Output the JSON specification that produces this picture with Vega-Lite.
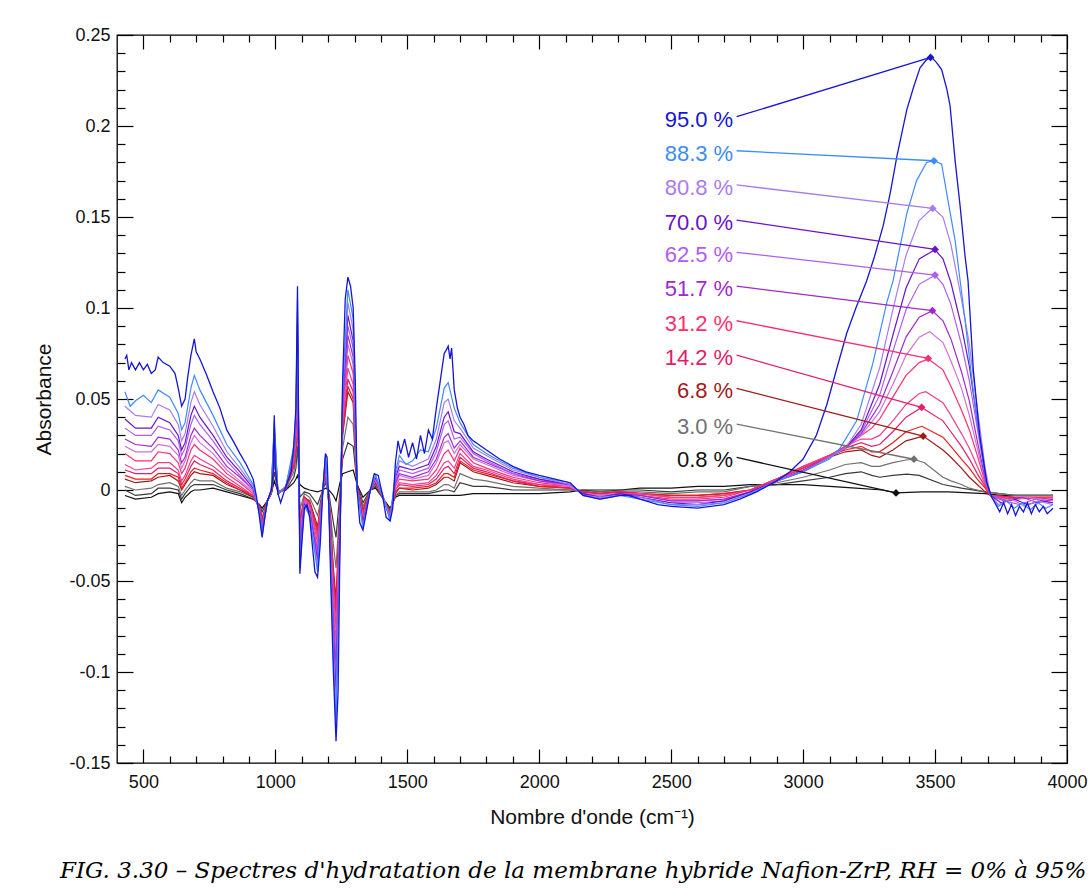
{
"$schema":"https://vega.github.io/schema/vega-lite/v6.json",
"width":950,"height":728,
"autosize":{"type":"none"},
"padding":{"left":117,"top":35,"right":24,"bottom":130},
"config":{"view":{"stroke":"#000","strokeWidth":1.3},"font":"Liberation Sans"},
"title":{"text":"FIG. 3.30 – Spectres d'hydratation de la membrane hybride Nafion-ZrP, RH = 0% à 95%","orient":"bottom","anchor":"start","frame":"group","dx":-57,"offset":33,"font":"DejaVu Serif","fontStyle":"italic","fontWeight":"normal","fontSize":23,"color":"#000"},
"datasets":{
"lab":[{"k":"95.0 %","ly":0.2051,"px":3483,"py":0.2377},{"k":"88.3 %","ly":0.1864,"px":3496,"py":0.1809},{"k":"80.8 %","ly":0.1676,"px":3491,"py":0.1547},{"k":"70.0 %","ly":0.1483,"px":3500,"py":0.1322},{"k":"62.5 %","ly":0.1306,"px":3500,"py":0.1181},{"k":"51.7 %","ly":0.112,"px":3490,"py":0.0985},{"k":"31.2 %","ly":0.093,"px":3474,"py":0.0723},{"k":"14.2 %","ly":0.0741,"px":3449,"py":0.0454},{"k":"6.8 %","ly":0.0558,"px":3455,"py":0.0296},{"k":"3.0 %","ly":0.0362,"px":3420,"py":0.0169},{"k":"0.8 %","ly":0.0179,"px":3352,"py":-0.0016}],
"s95":[{"x":430,"y":0.072},{"x":437,"y":0.074},{"x":445,"y":0.066},{"x":455,"y":0.07},{"x":470,"y":0.066},{"x":485,"y":0.07},{"x":500,"y":0.066},{"x":515,"y":0.069},{"x":530,"y":0.064},{"x":545,"y":0.066},{"x":556,"y":0.073},{"x":575,"y":0.07},{"x":600,"y":0.068},{"x":620,"y":0.064},{"x":632,"y":0.056},{"x":645,"y":0.046},{"x":658,"y":0.05},{"x":668,"y":0.062},{"x":680,"y":0.074},{"x":693,"y":0.083},{"x":700,"y":0.076},{"x":714,"y":0.072},{"x":740,"y":0.063},{"x":764,"y":0.054},{"x":790,"y":0.045},{"x":816,"y":0.033},{"x":840,"y":0.027},{"x":866,"y":0.02},{"x":890,"y":0.014},{"x":916,"y":0.006},{"x":929,"y":-0.004},{"x":940,"y":-0.015},{"x":950,"y":-0.026},{"x":960,"y":-0.015},{"x":970,"y":-0.006},{"x":985,"y":0},{"x":992,"y":0.01},{"x":996,"y":0.041},{"x":1000,"y":0.012},{"x":1010,"y":-0.002},{"x":1020,"y":-0.007},{"x":1040,"y":0.002},{"x":1060,"y":0.01},{"x":1070,"y":0.025},{"x":1078,"y":0.045},{"x":1084,"y":0.112},{"x":1088,"y":0.04},{"x":1093,"y":-0.046},{"x":1100,"y":-0.03},{"x":1110,"y":-0.01},{"x":1120,"y":-0.008},{"x":1130,"y":-0.015},{"x":1140,"y":-0.03},{"x":1150,"y":-0.045},{"x":1160,"y":-0.048},{"x":1170,"y":-0.03},{"x":1180,"y":0},{"x":1190,"y":0.02},{"x":1196,"y":0.018},{"x":1203,"y":-0.01},{"x":1210,"y":-0.05},{"x":1220,"y":-0.1},{"x":1230,"y":-0.138},{"x":1238,"y":-0.11},{"x":1245,"y":-0.03},{"x":1255,"y":0.06},{"x":1265,"y":0.105},{"x":1275,"y":0.117},{"x":1285,"y":0.112},{"x":1295,"y":0.1},{"x":1303,"y":0.06},{"x":1310,"y":0},{"x":1320,"y":-0.018},{"x":1332,"y":-0.022},{"x":1345,"y":-0.012},{"x":1360,"y":0},{"x":1375,"y":0.009},{"x":1390,"y":0.008},{"x":1405,"y":-0.002},{"x":1420,"y":-0.015},{"x":1435,"y":-0.017},{"x":1445,"y":-0.01},{"x":1455,"y":0.015},{"x":1465,"y":0.027},{"x":1475,"y":0.02},{"x":1490,"y":0.028},{"x":1505,"y":0.018},{"x":1520,"y":0.026},{"x":1535,"y":0.017},{"x":1550,"y":0.03},{"x":1565,"y":0.02},{"x":1580,"y":0.033},{"x":1595,"y":0.028},{"x":1610,"y":0.045},{"x":1625,"y":0.06},{"x":1640,"y":0.075},{"x":1648,"y":0.077},{"x":1655,"y":0.079},{"x":1662,"y":0.072},{"x":1668,"y":0.078},{"x":1678,"y":0.055},{"x":1690,"y":0.045},{"x":1700,"y":0.04},{"x":1715,"y":0.036},{"x":1730,"y":0.03},{"x":1750,"y":0.027},{"x":1800,"y":0.022},{"x":1850,"y":0.017},{"x":1900,"y":0.013},{"x":1950,"y":0.01},{"x":2000,"y":0.008},{"x":2060,"y":0.006},{"x":2117,"y":0.004},{"x":2166,"y":-0.003},{"x":2230,"y":-0.005},{"x":2268,"y":-0.004},{"x":2306,"y":-0.003},{"x":2340,"y":-0.003},{"x":2382,"y":-0.005},{"x":2450,"y":-0.008},{"x":2500,"y":-0.009},{"x":2600,"y":-0.01},{"x":2700,"y":-0.008},{"x":2760,"y":-0.005},{"x":2824,"y":-0.001},{"x":2900,"y":0.005},{"x":2950,"y":0.01},{"x":3000,"y":0.017},{"x":3050,"y":0.03},{"x":3090,"y":0.047},{"x":3130,"y":0.068},{"x":3165,"y":0.086},{"x":3200,"y":0.1},{"x":3241,"y":0.115},{"x":3270,"y":0.128},{"x":3303,"y":0.145},{"x":3330,"y":0.163},{"x":3355,"y":0.183},{"x":3393,"y":0.209},{"x":3420,"y":0.222},{"x":3443,"y":0.232},{"x":3465,"y":0.236},{"x":3485,"y":0.238},{"x":3505,"y":0.235},{"x":3525,"y":0.231},{"x":3545,"y":0.22},{"x":3557,"y":0.211},{"x":3576,"y":0.181},{"x":3595,"y":0.156},{"x":3614,"y":0.128},{"x":3625,"y":0.115},{"x":3645,"y":0.066},{"x":3670,"y":0.029},{"x":3696,"y":0.004},{"x":3715,"y":-0.004},{"x":3730,"y":-0.008},{"x":3745,"y":-0.012},{"x":3760,"y":-0.007},{"x":3775,"y":-0.013},{"x":3790,"y":-0.008},{"x":3805,"y":-0.014},{"x":3820,"y":-0.009},{"x":3835,"y":-0.012},{"x":3850,"y":-0.007},{"x":3865,"y":-0.013},{"x":3880,"y":-0.008},{"x":3895,"y":-0.012},{"x":3910,"y":-0.009},{"x":3925,"y":-0.013},{"x":3947,"y":-0.01}],
"s88":[{"x":430,"y":0.054},{"x":450,"y":0.046},{"x":470,"y":0.049},{"x":500,"y":0.052},{"x":530,"y":0.048},{"x":556,"y":0.055},{"x":600,"y":0.051},{"x":632,"y":0.042},{"x":645,"y":0.033},{"x":658,"y":0.037},{"x":680,"y":0.056},{"x":693,"y":0.063},{"x":714,"y":0.055},{"x":764,"y":0.041},{"x":816,"y":0.025},{"x":866,"y":0.015},{"x":916,"y":0.003},{"x":940,"y":-0.013},{"x":950,"y":-0.025},{"x":970,"y":-0.006},{"x":985,"y":0},{"x":996,"y":0.038},{"x":1010,"y":-0.002},{"x":1040,"y":0.002},{"x":1070,"y":0.024},{"x":1078,"y":0.042},{"x":1084,"y":0.105},{"x":1093,"y":-0.043},{"x":1110,"y":-0.009},{"x":1130,"y":-0.014},{"x":1160,"y":-0.045},{"x":1180,"y":0},{"x":1190,"y":0.019},{"x":1203,"y":-0.009},{"x":1220,"y":-0.093},{"x":1230,"y":-0.129},{"x":1245,"y":-0.028},{"x":1255,"y":0.056},{"x":1275,"y":0.11},{"x":1295,"y":0.094},{"x":1310,"y":0},{"x":1332,"y":-0.021},{"x":1360,"y":0},{"x":1380,"y":0.008},{"x":1405,"y":-0.002},{"x":1435,"y":-0.017},{"x":1455,"y":0.01},{"x":1470,"y":0.019},{"x":1495,"y":0.014},{"x":1520,"y":0.016},{"x":1550,"y":0.022},{"x":1580,"y":0.021},{"x":1610,"y":0.034},{"x":1640,"y":0.056},{"x":1655,"y":0.059},{"x":1678,"y":0.045},{"x":1700,"y":0.037},{"x":1750,"y":0.025},{"x":1800,"y":0.02},{"x":1900,"y":0.012},{"x":2000,"y":0.007},{"x":2117,"y":0.004},{"x":2166,"y":-0.003},{"x":2230,"y":-0.005},{"x":2306,"y":-0.003},{"x":2382,"y":-0.005},{"x":2500,"y":-0.008},{"x":2600,"y":-0.009},{"x":2700,"y":-0.007},{"x":2800,"y":-0.002},{"x":2900,"y":0.005},{"x":3000,"y":0.01},{"x":3100,"y":0.017},{"x":3140,"y":0.023},{"x":3203,"y":0.038},{"x":3265,"y":0.07},{"x":3317,"y":0.103},{"x":3341,"y":0.115},{"x":3393,"y":0.152},{"x":3430,"y":0.17},{"x":3468,"y":0.18},{"x":3496,"y":0.181},{"x":3525,"y":0.179},{"x":3549,"y":0.159},{"x":3576,"y":0.137},{"x":3595,"y":0.115},{"x":3614,"y":0.093},{"x":3640,"y":0.06},{"x":3670,"y":0.027},{"x":3696,"y":0.003},{"x":3715,"y":-0.004},{"x":3740,"y":-0.009},{"x":3770,"y":-0.006},{"x":3800,"y":-0.01},{"x":3830,"y":-0.007},{"x":3860,"y":-0.011},{"x":3890,"y":-0.007},{"x":3920,"y":-0.01},{"x":3947,"y":-0.008}],
"s81":[{"x":430,"y":0.046},{"x":470,"y":0.041},{"x":530,"y":0.04},{"x":556,"y":0.047},{"x":600,"y":0.044},{"x":632,"y":0.036},{"x":645,"y":0.027},{"x":658,"y":0.031},{"x":680,"y":0.048},{"x":693,"y":0.054},{"x":714,"y":0.047},{"x":764,"y":0.035},{"x":816,"y":0.021},{"x":866,"y":0.012},{"x":916,"y":0.002},{"x":940,"y":-0.013},{"x":950,"y":-0.024},{"x":970,"y":-0.006},{"x":985,"y":0},{"x":996,"y":0.036},{"x":1010,"y":-0.002},{"x":1040,"y":0.002},{"x":1070,"y":0.022},{"x":1078,"y":0.04},{"x":1084,"y":0.098},{"x":1093,"y":-0.04},{"x":1110,"y":-0.009},{"x":1130,"y":-0.013},{"x":1160,"y":-0.042},{"x":1180,"y":0},{"x":1190,"y":0.018},{"x":1203,"y":-0.009},{"x":1220,"y":-0.087},{"x":1230,"y":-0.121},{"x":1245,"y":-0.026},{"x":1255,"y":0.053},{"x":1275,"y":0.103},{"x":1295,"y":0.088},{"x":1310,"y":0},{"x":1332,"y":-0.02},{"x":1360,"y":0},{"x":1380,"y":0.008},{"x":1405,"y":-0.002},{"x":1435,"y":-0.016},{"x":1455,"y":0.008},{"x":1470,"y":0.016},{"x":1520,"y":0.013},{"x":1580,"y":0.017},{"x":1610,"y":0.028},{"x":1640,"y":0.048},{"x":1655,"y":0.05},{"x":1678,"y":0.038},{"x":1700,"y":0.034},{"x":1750,"y":0.023},{"x":1800,"y":0.019},{"x":1900,"y":0.011},{"x":2000,"y":0.007},{"x":2117,"y":0.003},{"x":2166,"y":-0.003},{"x":2230,"y":-0.004},{"x":2306,"y":-0.003},{"x":2382,"y":-0.004},{"x":2500,"y":-0.008},{"x":2600,"y":-0.008},{"x":2700,"y":-0.007},{"x":2800,"y":-0.002},{"x":2900,"y":0.005},{"x":3000,"y":0.01},{"x":3100,"y":0.018},{"x":3160,"y":0.023},{"x":3220,"y":0.036},{"x":3290,"y":0.067},{"x":3340,"y":0.099},{"x":3390,"y":0.129},{"x":3440,"y":0.148},{"x":3491,"y":0.155},{"x":3530,"y":0.15},{"x":3560,"y":0.135},{"x":3600,"y":0.105},{"x":3630,"y":0.08},{"x":3660,"y":0.045},{"x":3690,"y":0.012},{"x":3710,"y":-0.003},{"x":3740,"y":-0.008},{"x":3790,"y":-0.005},{"x":3840,"y":-0.009},{"x":3890,"y":-0.006},{"x":3947,"y":-0.008}],
"s70":[{"x":430,"y":0.039},{"x":470,"y":0.034},{"x":530,"y":0.034},{"x":556,"y":0.04},{"x":600,"y":0.037},{"x":632,"y":0.03},{"x":645,"y":0.022},{"x":658,"y":0.026},{"x":680,"y":0.041},{"x":693,"y":0.046},{"x":714,"y":0.04},{"x":764,"y":0.03},{"x":816,"y":0.018},{"x":866,"y":0.01},{"x":916,"y":0.001},{"x":940,"y":-0.012},{"x":950,"y":-0.023},{"x":970,"y":-0.006},{"x":985,"y":0},{"x":996,"y":0.034},{"x":1010,"y":-0.002},{"x":1040,"y":0.002},{"x":1070,"y":0.021},{"x":1078,"y":0.037},{"x":1084,"y":0.091},{"x":1093,"y":-0.036},{"x":1110,"y":-0.008},{"x":1130,"y":-0.012},{"x":1160,"y":-0.039},{"x":1180,"y":0},{"x":1190,"y":0.016},{"x":1203,"y":-0.008},{"x":1220,"y":-0.081},{"x":1230,"y":-0.112},{"x":1245,"y":-0.023},{"x":1255,"y":0.05},{"x":1275,"y":0.096},{"x":1295,"y":0.082},{"x":1310,"y":0.001},{"x":1332,"y":-0.018},{"x":1360,"y":0},{"x":1380,"y":0.007},{"x":1405,"y":-0.002},{"x":1435,"y":-0.016},{"x":1455,"y":0.007},{"x":1470,"y":0.013},{"x":1520,"y":0.011},{"x":1580,"y":0.014},{"x":1610,"y":0.024},{"x":1640,"y":0.04},{"x":1655,"y":0.043},{"x":1678,"y":0.032},{"x":1700,"y":0.031},{"x":1750,"y":0.021},{"x":1800,"y":0.017},{"x":1900,"y":0.01},{"x":2000,"y":0.006},{"x":2117,"y":0.003},{"x":2166,"y":-0.002},{"x":2230,"y":-0.004},{"x":2306,"y":-0.002},{"x":2382,"y":-0.004},{"x":2500,"y":-0.007},{"x":2600,"y":-0.008},{"x":2700,"y":-0.006},{"x":2800,"y":-0.001},{"x":2900,"y":0.005},{"x":3000,"y":0.01},{"x":3100,"y":0.018},{"x":3160,"y":0.023},{"x":3220,"y":0.033},{"x":3290,"y":0.058},{"x":3340,"y":0.085},{"x":3390,"y":0.111},{"x":3440,"y":0.127},{"x":3500,"y":0.132},{"x":3530,"y":0.127},{"x":3560,"y":0.114},{"x":3600,"y":0.09},{"x":3630,"y":0.068},{"x":3660,"y":0.038},{"x":3690,"y":0.009},{"x":3710,"y":-0.003},{"x":3750,"y":-0.007},{"x":3800,"y":-0.005},{"x":3850,"y":-0.008},{"x":3900,"y":-0.006},{"x":3947,"y":-0.007}],
"s62":[{"x":430,"y":0.034},{"x":470,"y":0.03},{"x":530,"y":0.03},{"x":556,"y":0.035},{"x":600,"y":0.033},{"x":632,"y":0.027},{"x":645,"y":0.019},{"x":658,"y":0.023},{"x":680,"y":0.036},{"x":693,"y":0.041},{"x":714,"y":0.036},{"x":764,"y":0.027},{"x":816,"y":0.016},{"x":866,"y":0.008},{"x":916,"y":0},{"x":940,"y":-0.012},{"x":950,"y":-0.022},{"x":970,"y":-0.006},{"x":985,"y":0},{"x":996,"y":0.032},{"x":1010,"y":-0.002},{"x":1040,"y":0.002},{"x":1070,"y":0.02},{"x":1078,"y":0.035},{"x":1084,"y":0.086},{"x":1093,"y":-0.034},{"x":1110,"y":-0.007},{"x":1130,"y":-0.011},{"x":1160,"y":-0.036},{"x":1180,"y":0},{"x":1190,"y":0.015},{"x":1203,"y":-0.008},{"x":1220,"y":-0.076},{"x":1230,"y":-0.105},{"x":1245,"y":-0.022},{"x":1255,"y":0.047},{"x":1275,"y":0.09},{"x":1295,"y":0.078},{"x":1310,"y":0.001},{"x":1332,"y":-0.018},{"x":1360,"y":0},{"x":1380,"y":0.007},{"x":1405,"y":-0.003},{"x":1435,"y":-0.015},{"x":1455,"y":0.005},{"x":1470,"y":0.011},{"x":1520,"y":0.009},{"x":1580,"y":0.012},{"x":1610,"y":0.021},{"x":1640,"y":0.036},{"x":1655,"y":0.038},{"x":1678,"y":0.028},{"x":1700,"y":0.029},{"x":1750,"y":0.02},{"x":1800,"y":0.016},{"x":1900,"y":0.009},{"x":2000,"y":0.006},{"x":2117,"y":0.003},{"x":2166,"y":-0.002},{"x":2230,"y":-0.004},{"x":2306,"y":-0.002},{"x":2382,"y":-0.004},{"x":2500,"y":-0.007},{"x":2600,"y":-0.007},{"x":2700,"y":-0.006},{"x":2800,"y":-0.001},{"x":2900,"y":0.005},{"x":3000,"y":0.01},{"x":3100,"y":0.018},{"x":3160,"y":0.023},{"x":3220,"y":0.032},{"x":3290,"y":0.052},{"x":3340,"y":0.076},{"x":3390,"y":0.099},{"x":3440,"y":0.113},{"x":3500,"y":0.118},{"x":3530,"y":0.113},{"x":3560,"y":0.102},{"x":3600,"y":0.08},{"x":3630,"y":0.06},{"x":3660,"y":0.034},{"x":3690,"y":0.008},{"x":3710,"y":-0.003},{"x":3760,"y":-0.006},{"x":3820,"y":-0.008},{"x":3880,"y":-0.005},{"x":3947,"y":-0.007}],
"s52":[{"x":430,"y":0.028},{"x":470,"y":0.025},{"x":530,"y":0.024},{"x":556,"y":0.029},{"x":600,"y":0.028},{"x":632,"y":0.022},{"x":645,"y":0.015},{"x":658,"y":0.018},{"x":680,"y":0.03},{"x":693,"y":0.034},{"x":714,"y":0.03},{"x":764,"y":0.023},{"x":816,"y":0.013},{"x":866,"y":0.007},{"x":916,"y":0},{"x":940,"y":-0.011},{"x":950,"y":-0.021},{"x":970,"y":-0.006},{"x":985,"y":0},{"x":996,"y":0.03},{"x":1010,"y":-0.002},{"x":1040,"y":0.001},{"x":1070,"y":0.019},{"x":1078,"y":0.033},{"x":1084,"y":0.081},{"x":1093,"y":-0.031},{"x":1110,"y":-0.007},{"x":1130,"y":-0.011},{"x":1160,"y":-0.034},{"x":1180,"y":0},{"x":1190,"y":0.014},{"x":1203,"y":-0.007},{"x":1220,"y":-0.071},{"x":1230,"y":-0.098},{"x":1245,"y":-0.02},{"x":1255,"y":0.045},{"x":1275,"y":0.085},{"x":1295,"y":0.073},{"x":1310,"y":0.001},{"x":1332,"y":-0.017},{"x":1360,"y":0},{"x":1380,"y":0.007},{"x":1405,"y":-0.003},{"x":1435,"y":-0.015},{"x":1455,"y":0.004},{"x":1470,"y":0.009},{"x":1520,"y":0.007},{"x":1580,"y":0.01},{"x":1610,"y":0.017},{"x":1640,"y":0.029},{"x":1655,"y":0.031},{"x":1678,"y":0.023},{"x":1700,"y":0.027},{"x":1750,"y":0.018},{"x":1800,"y":0.015},{"x":1900,"y":0.009},{"x":2000,"y":0.005},{"x":2117,"y":0.003},{"x":2166,"y":-0.002},{"x":2230,"y":-0.004},{"x":2306,"y":-0.002},{"x":2382,"y":-0.003},{"x":2500,"y":-0.006},{"x":2600,"y":-0.006},{"x":2700,"y":-0.005},{"x":2800,"y":-0.001},{"x":2900,"y":0.005},{"x":3000,"y":0.011},{"x":3100,"y":0.018},{"x":3160,"y":0.023},{"x":3220,"y":0.031},{"x":3290,"y":0.047},{"x":3340,"y":0.065},{"x":3390,"y":0.084},{"x":3440,"y":0.095},{"x":3490,"y":0.0985},{"x":3530,"y":0.093},{"x":3560,"y":0.083},{"x":3600,"y":0.065},{"x":3630,"y":0.049},{"x":3660,"y":0.027},{"x":3690,"y":0.006},{"x":3710,"y":-0.003},{"x":3770,"y":-0.006},{"x":3830,"y":-0.004},{"x":3890,"y":-0.007},{"x":3947,"y":-0.005}],
"u1":[{"x":430,"y":0.024},{"x":470,"y":0.021},{"x":530,"y":0.021},{"x":556,"y":0.025},{"x":600,"y":0.024},{"x":632,"y":0.019},{"x":645,"y":0.012},{"x":658,"y":0.016},{"x":680,"y":0.026},{"x":693,"y":0.03},{"x":714,"y":0.026},{"x":764,"y":0.02},{"x":816,"y":0.011},{"x":866,"y":0.005},{"x":916,"y":-0.001},{"x":940,"y":-0.011},{"x":950,"y":-0.02},{"x":970,"y":-0.006},{"x":985,"y":-0.001},{"x":996,"y":0.028},{"x":1010,"y":-0.002},{"x":1040,"y":0.001},{"x":1070,"y":0.018},{"x":1078,"y":0.031},{"x":1084,"y":0.076},{"x":1093,"y":-0.029},{"x":1110,"y":-0.006},{"x":1130,"y":-0.01},{"x":1160,"y":-0.032},{"x":1180,"y":0},{"x":1190,"y":0.013},{"x":1203,"y":-0.007},{"x":1220,"y":-0.066},{"x":1230,"y":-0.092},{"x":1245,"y":-0.018},{"x":1255,"y":0.042},{"x":1275,"y":0.08},{"x":1295,"y":0.069},{"x":1310,"y":0.001},{"x":1332,"y":-0.016},{"x":1360,"y":0},{"x":1380,"y":0.006},{"x":1405,"y":-0.003},{"x":1435,"y":-0.015},{"x":1455,"y":0.003},{"x":1470,"y":0.008},{"x":1520,"y":0.006},{"x":1580,"y":0.008},{"x":1610,"y":0.015},{"x":1640,"y":0.026},{"x":1655,"y":0.027},{"x":1678,"y":0.02},{"x":1700,"y":0.025},{"x":1750,"y":0.017},{"x":1800,"y":0.014},{"x":1900,"y":0.008},{"x":2000,"y":0.005},{"x":2117,"y":0.002},{"x":2166,"y":-0.002},{"x":2230,"y":-0.003},{"x":2306,"y":-0.002},{"x":2382,"y":-0.003},{"x":2500,"y":-0.006},{"x":2600,"y":-0.006},{"x":2700,"y":-0.005},{"x":2800,"y":-0.001},{"x":2900,"y":0.005},{"x":3000,"y":0.011},{"x":3100,"y":0.018},{"x":3160,"y":0.023},{"x":3220,"y":0.03},{"x":3290,"y":0.043},{"x":3340,"y":0.058},{"x":3390,"y":0.074},{"x":3440,"y":0.084},{"x":3480,"y":0.087},{"x":3530,"y":0.081},{"x":3560,"y":0.071},{"x":3600,"y":0.056},{"x":3630,"y":0.041},{"x":3660,"y":0.023},{"x":3690,"y":0.005},{"x":3710,"y":-0.003},{"x":3780,"y":-0.006},{"x":3850,"y":-0.004},{"x":3947,"y":-0.006}],
"s31":[{"x":430,"y":0.02},{"x":470,"y":0.016},{"x":530,"y":0.016},{"x":556,"y":0.021},{"x":600,"y":0.02},{"x":632,"y":0.015},{"x":645,"y":0.009},{"x":658,"y":0.012},{"x":680,"y":0.022},{"x":693,"y":0.025},{"x":714,"y":0.022},{"x":764,"y":0.017},{"x":816,"y":0.009},{"x":866,"y":0.004},{"x":916,"y":-0.002},{"x":940,"y":-0.01},{"x":950,"y":-0.02},{"x":970,"y":-0.006},{"x":985,"y":-0.001},{"x":996,"y":0.027},{"x":1010,"y":-0.002},{"x":1040,"y":0.001},{"x":1070,"y":0.017},{"x":1078,"y":0.029},{"x":1084,"y":0.07},{"x":1093,"y":-0.026},{"x":1110,"y":-0.006},{"x":1130,"y":-0.009},{"x":1160,"y":-0.029},{"x":1180,"y":0},{"x":1190,"y":0.012},{"x":1203,"y":-0.006},{"x":1220,"y":-0.061},{"x":1230,"y":-0.085},{"x":1245,"y":-0.016},{"x":1255,"y":0.04},{"x":1275,"y":0.074},{"x":1295,"y":0.064},{"x":1310,"y":0.001},{"x":1332,"y":-0.015},{"x":1360,"y":0},{"x":1380,"y":0.006},{"x":1405,"y":-0.003},{"x":1435,"y":-0.014},{"x":1455,"y":0.002},{"x":1470,"y":0.006},{"x":1520,"y":0.005},{"x":1580,"y":0.006},{"x":1610,"y":0.011},{"x":1640,"y":0.02},{"x":1655,"y":0.022},{"x":1678,"y":0.016},{"x":1700,"y":0.023},{"x":1750,"y":0.015},{"x":1800,"y":0.012},{"x":1900,"y":0.007},{"x":2000,"y":0.004},{"x":2117,"y":0.002},{"x":2166,"y":-0.002},{"x":2230,"y":-0.003},{"x":2306,"y":-0.002},{"x":2382,"y":-0.003},{"x":2500,"y":-0.005},{"x":2600,"y":-0.005},{"x":2700,"y":-0.004},{"x":2800,"y":0},{"x":2900,"y":0.006},{"x":3000,"y":0.012},{"x":3100,"y":0.019},{"x":3160,"y":0.024},{"x":3220,"y":0.03},{"x":3260,"y":0.034},{"x":3290,"y":0.039},{"x":3340,"y":0.051},{"x":3390,"y":0.063},{"x":3440,"y":0.07},{"x":3474,"y":0.072},{"x":3530,"y":0.066},{"x":3560,"y":0.057},{"x":3600,"y":0.044},{"x":3630,"y":0.033},{"x":3660,"y":0.019},{"x":3690,"y":0.004},{"x":3710,"y":-0.003},{"x":3780,"y":-0.005},{"x":3850,"y":-0.004},{"x":3947,"y":-0.005}],
"u2":[{"x":430,"y":0.014},{"x":470,"y":0.011},{"x":530,"y":0.012},{"x":556,"y":0.015},{"x":600,"y":0.015},{"x":632,"y":0.011},{"x":645,"y":0.005},{"x":658,"y":0.008},{"x":680,"y":0.016},{"x":693,"y":0.019},{"x":714,"y":0.017},{"x":764,"y":0.013},{"x":816,"y":0.007},{"x":866,"y":0.002},{"x":916,"y":-0.003},{"x":940,"y":-0.01},{"x":950,"y":-0.019},{"x":970,"y":-0.006},{"x":985,"y":-0.001},{"x":996,"y":0.024},{"x":1010,"y":-0.002},{"x":1040,"y":0.001},{"x":1070,"y":0.015},{"x":1078,"y":0.027},{"x":1084,"y":0.063},{"x":1093,"y":-0.023},{"x":1110,"y":-0.005},{"x":1130,"y":-0.008},{"x":1160,"y":-0.026},{"x":1180,"y":0},{"x":1190,"y":0.011},{"x":1203,"y":-0.005},{"x":1220,"y":-0.054},{"x":1230,"y":-0.076},{"x":1245,"y":-0.014},{"x":1255,"y":0.036},{"x":1275,"y":0.067},{"x":1295,"y":0.058},{"x":1310,"y":0.001},{"x":1332,"y":-0.014},{"x":1360,"y":0},{"x":1380,"y":0.005},{"x":1405,"y":-0.003},{"x":1435,"y":-0.014},{"x":1455,"y":0},{"x":1470,"y":0.004},{"x":1520,"y":0.003},{"x":1580,"y":0.004},{"x":1610,"y":0.008},{"x":1640,"y":0.015},{"x":1655,"y":0.016},{"x":1678,"y":0.012},{"x":1700,"y":0.02},{"x":1750,"y":0.013},{"x":1800,"y":0.011},{"x":1900,"y":0.006},{"x":2000,"y":0.003},{"x":2117,"y":0.002},{"x":2166,"y":-0.002},{"x":2230,"y":-0.003},{"x":2306,"y":-0.002},{"x":2382,"y":-0.002},{"x":2500,"y":-0.004},{"x":2600,"y":-0.004},{"x":2700,"y":-0.003},{"x":2800,"y":0},{"x":2900,"y":0.006},{"x":3000,"y":0.013},{"x":3100,"y":0.019},{"x":3160,"y":0.024},{"x":3220,"y":0.028},{"x":3260,"y":0.028},{"x":3290,"y":0.03},{"x":3340,"y":0.038},{"x":3390,"y":0.047},{"x":3440,"y":0.053},{"x":3465,"y":0.054},{"x":3530,"y":0.048},{"x":3560,"y":0.041},{"x":3600,"y":0.031},{"x":3630,"y":0.023},{"x":3660,"y":0.013},{"x":3690,"y":0.003},{"x":3710,"y":-0.003},{"x":3800,"y":-0.005},{"x":3947,"y":-0.004}],
"s14":[{"x":430,"y":0.011},{"x":470,"y":0.009},{"x":530,"y":0.009},{"x":556,"y":0.012},{"x":600,"y":0.012},{"x":632,"y":0.009},{"x":645,"y":0.003},{"x":658,"y":0.006},{"x":680,"y":0.013},{"x":693,"y":0.016},{"x":714,"y":0.014},{"x":764,"y":0.011},{"x":816,"y":0.005},{"x":866,"y":0.001},{"x":916,"y":-0.003},{"x":940,"y":-0.009},{"x":950,"y":-0.018},{"x":970,"y":-0.006},{"x":985,"y":-0.001},{"x":996,"y":0.022},{"x":1010,"y":-0.002},{"x":1040,"y":0.001},{"x":1070,"y":0.014},{"x":1078,"y":0.025},{"x":1084,"y":0.058},{"x":1093,"y":-0.021},{"x":1110,"y":-0.004},{"x":1130,"y":-0.007},{"x":1160,"y":-0.024},{"x":1180,"y":0},{"x":1190,"y":0.01},{"x":1203,"y":-0.005},{"x":1220,"y":-0.05},{"x":1230,"y":-0.069},{"x":1245,"y":-0.012},{"x":1255,"y":0.034},{"x":1275,"y":0.061},{"x":1295,"y":0.054},{"x":1310,"y":0.002},{"x":1332,"y":-0.013},{"x":1360,"y":0},{"x":1380,"y":0.005},{"x":1405,"y":-0.003},{"x":1435,"y":-0.013},{"x":1455,"y":0},{"x":1470,"y":0.003},{"x":1520,"y":0.002},{"x":1580,"y":0.003},{"x":1610,"y":0.006},{"x":1640,"y":0.012},{"x":1655,"y":0.013},{"x":1678,"y":0.009},{"x":1700,"y":0.018},{"x":1750,"y":0.012},{"x":1800,"y":0.01},{"x":1900,"y":0.005},{"x":2000,"y":0.003},{"x":2117,"y":0.001},{"x":2166,"y":-0.001},{"x":2230,"y":-0.002},{"x":2306,"y":-0.001},{"x":2382,"y":-0.002},{"x":2500,"y":-0.004},{"x":2600,"y":-0.004},{"x":2700,"y":-0.003},{"x":2800,"y":0},{"x":2900,"y":0.006},{"x":3000,"y":0.013},{"x":3100,"y":0.019},{"x":3160,"y":0.023},{"x":3220,"y":0.026},{"x":3260,"y":0.024},{"x":3290,"y":0.025},{"x":3340,"y":0.032},{"x":3390,"y":0.04},{"x":3449,"y":0.0454},{"x":3530,"y":0.038},{"x":3560,"y":0.032},{"x":3600,"y":0.024},{"x":3630,"y":0.017},{"x":3660,"y":0.009},{"x":3690,"y":0.002},{"x":3710,"y":-0.003},{"x":3800,"y":-0.004},{"x":3947,"y":-0.004}],
"u3":[{"x":430,"y":0.008},{"x":470,"y":0.006},{"x":530,"y":0.006},{"x":556,"y":0.009},{"x":600,"y":0.009},{"x":632,"y":0.007},{"x":645,"y":0.001},{"x":658,"y":0.004},{"x":680,"y":0.01},{"x":693,"y":0.012},{"x":714,"y":0.011},{"x":764,"y":0.009},{"x":816,"y":0.004},{"x":866,"y":0},{"x":916,"y":-0.003},{"x":940,"y":-0.009},{"x":950,"y":-0.017},{"x":970,"y":-0.006},{"x":985,"y":-0.001},{"x":996,"y":0.021},{"x":1010,"y":-0.001},{"x":1040,"y":0.001},{"x":1070,"y":0.013},{"x":1078,"y":0.023},{"x":1084,"y":0.054},{"x":1093,"y":-0.019},{"x":1110,"y":-0.004},{"x":1130,"y":-0.007},{"x":1160,"y":-0.022},{"x":1180,"y":0},{"x":1190,"y":0.009},{"x":1203,"y":-0.004},{"x":1220,"y":-0.046},{"x":1230,"y":-0.064},{"x":1245,"y":-0.011},{"x":1255,"y":0.031},{"x":1275,"y":0.057},{"x":1295,"y":0.05},{"x":1310,"y":0.002},{"x":1332,"y":-0.012},{"x":1360,"y":0},{"x":1380,"y":0.005},{"x":1405,"y":-0.003},{"x":1435,"y":-0.013},{"x":1455,"y":-0.001},{"x":1470,"y":0.001},{"x":1520,"y":0.001},{"x":1580,"y":0.002},{"x":1610,"y":0.004},{"x":1640,"y":0.009},{"x":1655,"y":0.009},{"x":1678,"y":0.007},{"x":1700,"y":0.016},{"x":1750,"y":0.011},{"x":1800,"y":0.009},{"x":1900,"y":0.005},{"x":2000,"y":0.002},{"x":2117,"y":0.001},{"x":2166,"y":-0.001},{"x":2230,"y":-0.002},{"x":2306,"y":-0.001},{"x":2382,"y":-0.002},{"x":2500,"y":-0.003},{"x":2600,"y":-0.003},{"x":2700,"y":-0.002},{"x":2800,"y":0},{"x":2900,"y":0.006},{"x":3000,"y":0.012},{"x":3100,"y":0.019},{"x":3160,"y":0.022},{"x":3220,"y":0.024},{"x":3260,"y":0.021},{"x":3290,"y":0.021},{"x":3340,"y":0.026},{"x":3390,"y":0.032},{"x":3450,"y":0.035},{"x":3530,"y":0.029},{"x":3560,"y":0.024},{"x":3600,"y":0.017},{"x":3630,"y":0.012},{"x":3660,"y":0.006},{"x":3690,"y":0.001},{"x":3710,"y":-0.003},{"x":3800,"y":-0.004},{"x":3947,"y":-0.004}],
"s07":[{"x":430,"y":0.006},{"x":470,"y":0.004},{"x":530,"y":0.005},{"x":556,"y":0.007},{"x":600,"y":0.008},{"x":632,"y":0.005},{"x":645,"y":0},{"x":658,"y":0.003},{"x":680,"y":0.008},{"x":693,"y":0.01},{"x":714,"y":0.009},{"x":764,"y":0.008},{"x":816,"y":0.003},{"x":866,"y":0},{"x":916,"y":-0.004},{"x":940,"y":-0.009},{"x":950,"y":-0.017},{"x":970,"y":-0.006},{"x":985,"y":-0.001},{"x":996,"y":0.02},{"x":1010,"y":-0.001},{"x":1040,"y":0.001},{"x":1070,"y":0.013},{"x":1078,"y":0.022},{"x":1084,"y":0.051},{"x":1093,"y":-0.017},{"x":1110,"y":-0.004},{"x":1130,"y":-0.006},{"x":1160,"y":-0.02},{"x":1180,"y":0},{"x":1190,"y":0.009},{"x":1203,"y":-0.004},{"x":1220,"y":-0.043},{"x":1230,"y":-0.06},{"x":1245,"y":-0.01},{"x":1255,"y":0.03},{"x":1275,"y":0.054},{"x":1295,"y":0.048},{"x":1310,"y":0.002},{"x":1332,"y":-0.011},{"x":1360,"y":0},{"x":1380,"y":0.004},{"x":1405,"y":-0.003},{"x":1435,"y":-0.013},{"x":1455,"y":-0.002},{"x":1470,"y":0.001},{"x":1520,"y":0},{"x":1580,"y":0.001},{"x":1610,"y":0.003},{"x":1640,"y":0.007},{"x":1655,"y":0.007},{"x":1678,"y":0.005},{"x":1700,"y":0.015},{"x":1750,"y":0.01},{"x":1800,"y":0.008},{"x":1900,"y":0.004},{"x":2000,"y":0.002},{"x":2117,"y":0.001},{"x":2166,"y":-0.001},{"x":2230,"y":-0.002},{"x":2306,"y":-0.001},{"x":2382,"y":-0.002},{"x":2500,"y":-0.003},{"x":2600,"y":-0.003},{"x":2700,"y":-0.002},{"x":2800,"y":0},{"x":2900,"y":0.006},{"x":3000,"y":0.012},{"x":3100,"y":0.018},{"x":3160,"y":0.021},{"x":3220,"y":0.022},{"x":3260,"y":0.019},{"x":3290,"y":0.018},{"x":3340,"y":0.022},{"x":3390,"y":0.027},{"x":3455,"y":0.0296},{"x":3530,"y":0.022},{"x":3560,"y":0.018},{"x":3600,"y":0.012},{"x":3630,"y":0.007},{"x":3660,"y":0.003},{"x":3690,"y":-0.001},{"x":3710,"y":-0.003},{"x":3800,"y":-0.004},{"x":3947,"y":-0.004}],
"s03":[{"x":430,"y":0.002},{"x":470,"y":0},{"x":530,"y":0.001},{"x":556,"y":0.003},{"x":600,"y":0.004},{"x":632,"y":0.002},{"x":645,"y":-0.003},{"x":658,"y":0},{"x":680,"y":0.004},{"x":693,"y":0.006},{"x":714,"y":0.005},{"x":764,"y":0.005},{"x":816,"y":0.001},{"x":866,"y":-0.001},{"x":916,"y":-0.004},{"x":940,"y":-0.009},{"x":950,"y":-0.015},{"x":970,"y":-0.006},{"x":985,"y":-0.001},{"x":996,"y":0.015},{"x":1010,"y":-0.001},{"x":1040,"y":0.001},{"x":1070,"y":0.01},{"x":1078,"y":0.017},{"x":1084,"y":0.037},{"x":1093,"y":-0.011},{"x":1110,"y":-0.002},{"x":1130,"y":-0.004},{"x":1160,"y":-0.014},{"x":1180,"y":0},{"x":1190,"y":0.006},{"x":1203,"y":-0.003},{"x":1220,"y":-0.03},{"x":1230,"y":-0.043},{"x":1245,"y":-0.006},{"x":1255,"y":0.023},{"x":1275,"y":0.04},{"x":1295,"y":0.036},{"x":1310,"y":0.002},{"x":1332,"y":-0.009},{"x":1360,"y":0},{"x":1380,"y":0.003},{"x":1405,"y":-0.004},{"x":1435,"y":-0.012},{"x":1455,"y":-0.003},{"x":1470,"y":-0.001},{"x":1520,"y":-0.001},{"x":1580,"y":-0.001},{"x":1610,"y":0},{"x":1640,"y":0.003},{"x":1655,"y":0.003},{"x":1678,"y":0.001},{"x":1700,"y":0.009},{"x":1750,"y":0.006},{"x":1800,"y":0.005},{"x":1900,"y":0.002},{"x":2000,"y":0.001},{"x":2117,"y":0},{"x":2166,"y":-0.001},{"x":2230,"y":-0.001},{"x":2306,"y":-0.001},{"x":2382,"y":-0.001},{"x":2500,"y":-0.002},{"x":2600,"y":-0.001},{"x":2700,"y":-0.001},{"x":2800,"y":0.002},{"x":2900,"y":0.004},{"x":3000,"y":0.007},{"x":3100,"y":0.011},{"x":3160,"y":0.014},{"x":3220,"y":0.015},{"x":3260,"y":0.013},{"x":3290,"y":0.013},{"x":3340,"y":0.015},{"x":3390,"y":0.0165},{"x":3420,"y":0.0169},{"x":3460,"y":0.015},{"x":3530,"y":0.007},{"x":3560,"y":0.005},{"x":3600,"y":0.003},{"x":3630,"y":0.001},{"x":3660,"y":0},{"x":3690,"y":-0.001},{"x":3800,"y":-0.003},{"x":3947,"y":-0.003}],
"u4":[{"x":430,"y":0},{"x":470,"y":-0.003},{"x":530,"y":-0.002},{"x":556,"y":0.001},{"x":600,"y":0.001},{"x":632,"y":0},{"x":645,"y":-0.005},{"x":658,"y":-0.002},{"x":680,"y":0.002},{"x":693,"y":0.003},{"x":714,"y":0.003},{"x":764,"y":0.003},{"x":816,"y":0},{"x":866,"y":-0.002},{"x":916,"y":-0.005},{"x":940,"y":-0.008},{"x":950,"y":-0.012},{"x":970,"y":-0.006},{"x":985,"y":-0.002},{"x":996,"y":0.01},{"x":1010,"y":-0.001},{"x":1040,"y":0},{"x":1070,"y":0.007},{"x":1078,"y":0.012},{"x":1084,"y":0.024},{"x":1093,"y":-0.004},{"x":1110,"y":-0.001},{"x":1130,"y":-0.002},{"x":1160,"y":-0.008},{"x":1180,"y":0},{"x":1190,"y":0.004},{"x":1203,"y":-0.002},{"x":1220,"y":-0.018},{"x":1230,"y":-0.026},{"x":1245,"y":-0.001},{"x":1255,"y":0.017},{"x":1275,"y":0.026},{"x":1295,"y":0.024},{"x":1310,"y":0.003},{"x":1332,"y":-0.007},{"x":1360,"y":0},{"x":1380,"y":0.002},{"x":1405,"y":-0.004},{"x":1435,"y":-0.011},{"x":1455,"y":-0.003},{"x":1470,"y":-0.002},{"x":1520,"y":-0.002},{"x":1580,"y":-0.002},{"x":1610,"y":-0.001},{"x":1640,"y":0},{"x":1655,"y":0},{"x":1678,"y":-0.001},{"x":1700,"y":0.004},{"x":1750,"y":0.002},{"x":1800,"y":0.002},{"x":1900,"y":0},{"x":2000,"y":0},{"x":2117,"y":0},{"x":2166,"y":0},{"x":2230,"y":-0.001},{"x":2306,"y":0},{"x":2382,"y":0},{"x":2500,"y":-0.001},{"x":2600,"y":0},{"x":2700,"y":0},{"x":2800,"y":0.002},{"x":2900,"y":0.003},{"x":3000,"y":0.005},{"x":3100,"y":0.007},{"x":3160,"y":0.009},{"x":3220,"y":0.01},{"x":3260,"y":0.008},{"x":3290,"y":0.007},{"x":3340,"y":0.008},{"x":3393,"y":0.0087},{"x":3440,"y":0.008},{"x":3530,"y":0.003},{"x":3600,"y":0.001},{"x":3690,"y":-0.001},{"x":3800,"y":-0.003},{"x":3947,"y":-0.003}],
"s01":[{"x":430,"y":-0.003},{"x":470,"y":-0.005},{"x":530,"y":-0.004},{"x":556,"y":-0.002},{"x":600,"y":-0.001},{"x":632,"y":-0.002},{"x":645,"y":-0.007},{"x":658,"y":-0.004},{"x":680,"y":-0.001},{"x":693,"y":0},{"x":714,"y":0},{"x":764,"y":0.001},{"x":816,"y":-0.001},{"x":866,"y":-0.003},{"x":916,"y":-0.005},{"x":940,"y":-0.008},{"x":950,"y":-0.01},{"x":970,"y":-0.006},{"x":985,"y":-0.002},{"x":996,"y":0.005},{"x":1010,"y":-0.001},{"x":1040,"y":0},{"x":1070,"y":0.004},{"x":1078,"y":0.006},{"x":1084,"y":0.008},{"x":1093,"y":0.003},{"x":1110,"y":0.001},{"x":1130,"y":0},{"x":1160,"y":-0.001},{"x":1180,"y":0},{"x":1190,"y":0.001},{"x":1203,"y":0},{"x":1220,"y":-0.003},{"x":1230,"y":-0.006},{"x":1245,"y":0.004},{"x":1255,"y":0.009},{"x":1275,"y":0.01},{"x":1295,"y":0.011},{"x":1310,"y":0.003},{"x":1332,"y":-0.004},{"x":1360,"y":0},{"x":1380,"y":0.001},{"x":1405,"y":-0.004},{"x":1435,"y":-0.01},{"x":1455,"y":-0.004},{"x":1470,"y":-0.003},{"x":1520,"y":-0.003},{"x":1580,"y":-0.003},{"x":1610,"y":-0.003},{"x":1640,"y":-0.003},{"x":1655,"y":-0.003},{"x":1678,"y":-0.003},{"x":1700,"y":-0.003},{"x":1750,"y":-0.002},{"x":1800,"y":-0.002},{"x":1900,"y":-0.002},{"x":2000,"y":-0.002},{"x":2117,"y":-0.001},{"x":2166,"y":0},{"x":2230,"y":0},{"x":2306,"y":0},{"x":2382,"y":0.001},{"x":2500,"y":0.001},{"x":2600,"y":0.002},{"x":2700,"y":0.002},{"x":2800,"y":0.003},{"x":2900,"y":0.003},{"x":3000,"y":0.003},{"x":3100,"y":0.002},{"x":3200,"y":0.001},{"x":3300,"y":0},{"x":3352,"y":-0.0016},{"x":3450,"y":-0.001},{"x":3550,"y":-0.001},{"x":3690,"y":-0.002},{"x":3750,"y":-0.003},{"x":3850,"y":-0.003},{"x":3947,"y":-0.003}]
},
"resolve":{"scale":{"x":"independent","y":"independent"}},
"layer":[
{
"encoding":{
"x":{"field":"x","type":"quantitative","scale":{"domain":[400,4000],"nice":false,"zero":false},"axis":{"orient":"bottom","title":"Nombre d'onde (cm⁻¹)","values":[500,600,700,800,900,1000,1100,1200,1300,1400,1500,1600,1700,1800,1900,2000,2100,2200,2300,2400,2500,2600,2700,2800,2900,3000,3100,3200,3300,3400,3500,3600,3700,3800,3900,4000],"labelExpr":"datum.value % 500 === 0 ? '' + datum.value : ''","tickSize":{"condition":{"test":"datum.value % 500 === 0","value":-14},"value":-7},"tickColor":"#000","tickWidth":1.2,"domain":false,"grid":false,"labelPadding":24,"labelFlush":false,"labelOverlap":false,"labelBound":false,"labelFont":"Liberation Sans","labelFontSize":18,"labelColor":"#111","titleFont":"Liberation Sans","titleFontSize":21,"titleFontWeight":"normal","titleColor":"#111","titlePadding":8}},
"y":{"field":"y","type":"quantitative","scale":{"domain":[-0.15,0.25],"nice":false,"zero":false},"axis":{"orient":"left","title":"Absorbance","values":[-0.15,-0.14,-0.13,-0.12,-0.11,-0.1,-0.09,-0.08,-0.07,-0.06,-0.05,-0.04,-0.03,-0.02,-0.01,0,0.01,0.02,0.03,0.04,0.05,0.06,0.07,0.08,0.09,0.1,0.11,0.12,0.13,0.14,0.15,0.16,0.17,0.18,0.19,0.2,0.21,0.22,0.23,0.24,0.25],"labelExpr":"abs(datum.value*20 - round(datum.value*20)) < 0.001 ? '' + round(datum.value*100)/100 : ''","tickSize":{"condition":{"test":"abs(datum.value*20 - round(datum.value*20)) < 0.001","value":-16},"value":-8},"tickColor":"#000","tickWidth":1.2,"domain":false,"grid":false,"labelPadding":23,"labelFlush":false,"labelOverlap":false,"labelBound":false,"labelFont":"Liberation Sans","labelFontSize":18,"labelColor":"#111","titleFont":"Liberation Sans","titleFontSize":21,"titleFontWeight":"normal","titleColor":"#111","titlePadding":14}}
},
"layer":[
{"data":{"name":"s01"},"mark":{"type":"line","color":"#111111","strokeWidth":1.2}},
{"data":{"name":"u4"},"mark":{"type":"line","color":"#3a3a3a","strokeWidth":1.2}},
{"data":{"name":"s03"},"mark":{"type":"line","color":"#707070","strokeWidth":1.2}},
{"data":{"name":"s07"},"mark":{"type":"line","color":"#a01a1a","strokeWidth":1.2}},
{"data":{"name":"u3"},"mark":{"type":"line","color":"#ee1c1c","strokeWidth":1.2}},
{"data":{"name":"s14"},"mark":{"type":"line","color":"#e0206a","strokeWidth":1.2}},
{"data":{"name":"u2"},"mark":{"type":"line","color":"#f0408a","strokeWidth":1.2}},
{"data":{"name":"s31"},"mark":{"type":"line","color":"#ff2f6e","strokeWidth":1.2}},
{"data":{"name":"u1"},"mark":{"type":"line","color":"#d070d8","strokeWidth":1.2}},
{"data":{"name":"s52"},"mark":{"type":"line","color":"#a028d0","strokeWidth":1.2}},
{"data":{"name":"s62"},"mark":{"type":"line","color":"#b05cf2","strokeWidth":1.2}},
{"data":{"name":"s70"},"mark":{"type":"line","color":"#6a12c8","strokeWidth":1.2}},
{"data":{"name":"s81"},"mark":{"type":"line","color":"#a97bf0","strokeWidth":1.2}},
{"data":{"name":"s88"},"mark":{"type":"line","color":"#3d8bff","strokeWidth":1.2}},
{"data":{"name":"s95"},"mark":{"type":"line","color":"#1515d8","strokeWidth":1.3}},
{"data":{"name":"lab"},"transform":[{"calculate":"2748","as":"lx"}],"mark":{"type":"rule","strokeWidth":1.3},"encoding":{"x":{"field":"lx","type":"quantitative","title":"Nombre d'onde (cm⁻¹)"},"y":{"field":"ly","type":"quantitative","title":"Absorbance"},"x2":{"field":"px"},"y2":{"field":"py"},"color":{"field":"k","type":"nominal","legend":null,"scale":{"domain":["95.0 %","88.3 %","80.8 %","70.0 %","62.5 %","51.7 %","31.2 %","14.2 %","6.8 %","3.0 %","0.8 %"],"range":["#1515d8","#3d8bff","#a97bf0","#6a12c8","#b05cf2","#a028d0","#ff2f6e","#e0206a","#a01a1a","#707070","#111111"]}}}},
{"data":{"name":"lab"},"mark":{"type":"point","shape":"diamond","filled":true,"size":60,"opacity":1},"encoding":{"x":{"field":"px","type":"quantitative","title":"Nombre d'onde (cm⁻¹)"},"y":{"field":"py","type":"quantitative","title":"Absorbance"},"color":{"field":"k","type":"nominal","legend":null}}},
{"data":{"name":"lab"},"transform":[{"calculate":"2735","as":"tx"}],"mark":{"type":"text","align":"right","baseline":"middle","dy":3,"fontSize":22,"font":"Liberation Sans"},"encoding":{"x":{"field":"tx","type":"quantitative","title":"Nombre d'onde (cm⁻¹)"},"y":{"field":"ly","type":"quantitative","title":"Absorbance"},"text":{"field":"k"},"color":{"field":"k","type":"nominal","legend":null}}}
]
},
{
"data":{"name":"lab"},
"mark":{"type":"point","opacity":0},
"encoding":{
"x":{"field":"px","type":"quantitative","scale":{"domain":[400,4000],"nice":false,"zero":false},"axis":{"orient":"top","title":null,"labels":false,"domain":false,"grid":false,"values":[500,600,700,800,900,1000,1100,1200,1300,1400,1500,1600,1700,1800,1900,2000,2100,2200,2300,2400,2500,2600,2700,2800,2900,3000,3100,3200,3300,3400,3500,3600,3700,3800,3900,4000],"tickSize":{"condition":{"test":"datum.value % 500 === 0","value":-14},"value":-7},"tickColor":"#000","tickWidth":1.2}},
"y":{"field":"py","type":"quantitative","scale":{"domain":[-0.15,0.25],"nice":false,"zero":false},"axis":{"orient":"right","title":null,"labels":false,"domain":false,"grid":false,"values":[-0.15,-0.14,-0.13,-0.12,-0.11,-0.1,-0.09,-0.08,-0.07,-0.06,-0.05,-0.04,-0.03,-0.02,-0.01,0,0.01,0.02,0.03,0.04,0.05,0.06,0.07,0.08,0.09,0.1,0.11,0.12,0.13,0.14,0.15,0.16,0.17,0.18,0.19,0.2,0.21,0.22,0.23,0.24,0.25],"tickSize":{"condition":{"test":"abs(datum.value*20 - round(datum.value*20)) < 0.001","value":-16},"value":-8},"tickColor":"#000","tickWidth":1.2}}
}
}
]
}
